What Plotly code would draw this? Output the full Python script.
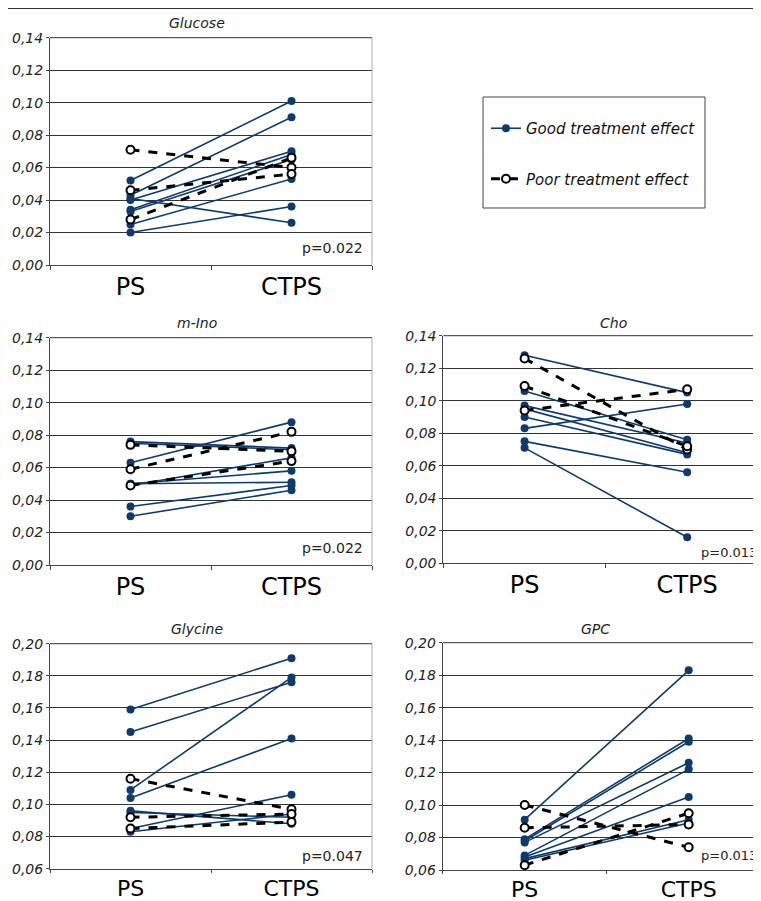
import plotly.graph_objects as go

# The page body adds an 8px margin, so the figure is 8px smaller than the window
# and all layout positions below (given in window pixels) are shifted by OFF.
OFF = 8
W, H = 761 - OFF, 901 - OFF
NAVY = "#0d3b6c"
categories = ["PS", "CTPS"]

# ---- data (PS -> CTPS), one pair per patient ----
glucose_good_ps   = [0.052, 0.043, 0.041, 0.040, 0.034, 0.033, 0.025, 0.020]
glucose_good_ctps = [0.101, 0.091, 0.026, 0.070, 0.068, 0.065, 0.053, 0.036]
glucose_poor_ps   = [0.071, 0.046, 0.028]
glucose_poor_ctps = [0.060, 0.056, 0.066]

mino_good_ps   = [0.076, 0.075, 0.063, 0.050, 0.050, 0.049, 0.036, 0.030]
mino_good_ctps = [0.072, 0.071, 0.088, 0.058, 0.051, 0.066, 0.049, 0.046]
mino_poor_ps   = [0.074, 0.059, 0.049]
mino_poor_ctps = [0.070, 0.082, 0.064]

cho_good_ps   = [0.128, 0.106, 0.097, 0.095, 0.090, 0.083, 0.075, 0.071]
cho_good_ctps = [0.105, 0.076, 0.074, 0.068, 0.067, 0.098, 0.056, 0.016]
cho_poor_ps   = [0.126, 0.109, 0.094]
cho_poor_ctps = [0.070, 0.072, 0.107]

gly_good_ps   = [0.159, 0.145, 0.109, 0.104, 0.096, 0.095, 0.085, 0.083]
gly_good_ctps = [0.191, 0.176, 0.179, 0.141, 0.088, 0.092, 0.106, 0.094]
gly_poor_ps   = [0.116, 0.092, 0.085]
gly_poor_ctps = [0.097, 0.094, 0.089]

gpc_good_ps   = [0.091, 0.079, 0.078, 0.077, 0.069, 0.068, 0.067, 0.066]
gpc_good_ctps = [0.183, 0.141, 0.139, 0.126, 0.122, 0.105, 0.091, 0.089]
gpc_poor_ps   = [0.100, 0.086, 0.063]
gpc_poor_ctps = [0.074, 0.088, 0.095]

titles = ["Glucose", "m-Ino", "Cho", "Glycine", "GPC"]
pvalues = ["p=0.022", "p=0.022", "p=0.013", "p=0.047", "p=0.013"]
y_ranges = [[0, 0.14], [0, 0.14], [0, 0.14], [0.06, 0.20], [0.06, 0.20]]

data = [
    (glucose_good_ps, glucose_good_ctps, glucose_poor_ps, glucose_poor_ctps),
    (mino_good_ps, mino_good_ctps, mino_poor_ps, mino_poor_ctps),
    (cho_good_ps, cho_good_ctps, cho_poor_ps, cho_poor_ctps),
    (gly_good_ps, gly_good_ctps, gly_poor_ps, gly_poor_ctps),
    (gpc_good_ps, gpc_good_ctps, gpc_poor_ps, gpc_poor_ctps),
]

# ---- layout geometry (window pixels) ----
# (left, right, top, bottom, x range max, title x, title y, pval x, pval y,
#  pval anchor, pval size, right border, x label size)
panels = [
    (50, 372, 37.7, 265, 1.5, 197, 23, 332, 248, "center", 14, True, 24),
    (50, 372, 337.7, 565, 1.5, 197, 323, 332, 548, "center", 14, True, 24),
    (443.3, 761, 335.7, 563.3, 1.454, 613, 323, 759, 552, "right", 13, False, 24),
    (50, 372, 643.7, 868.7, 1.5, 197, 629, 332, 856, "center", 14, True, 22),
    (442.7, 761, 642.7, 870, 1.441, 595, 629, 759, 855, "right", 13, False, 22),
]

def xf(px):
    return (px - OFF) / W

def yf(py):
    return 1 - (py - OFF) / H

def pairs(ps, ctps):
    xs, ys = [], []
    for a, b in zip(ps, ctps):
        xs += ["PS", "CTPS", None]
        ys += [a, b, None]
    return xs, ys

fig = go.Figure()
shapes, annotations = [], []
tickfont = dict(family="DejaVu Sans", size=14, color="#222", style="italic")

for i, (geo, d, title, pv, yr) in enumerate(zip(panels, data, titles, pvalues, y_ranges)):
    l, r, t, b, xmax, tx, ty, px, py, panchor, psize, rborder, xls = geo
    n = "" if i == 0 else str(i + 1)
    xa, ya = "x" + n, "y" + n
    gps, gct, pps, pct = d
    gx, gy = pairs(gps, gct)
    px_, py_ = pairs(pps, pct)
    fig.add_trace(go.Scatter(
        x=gx, y=gy, xaxis=xa, yaxis=ya, mode="lines+markers",
        line=dict(color=NAVY, width=1.6),
        marker=dict(color=NAVY, size=8, symbol="circle"),
        name="Good treatment effect", legendgroup="good", showlegend=(i == 0),
        connectgaps=False, cliponaxis=False))
    fig.add_trace(go.Scatter(
        x=px_, y=py_, xaxis=xa, yaxis=ya, mode="lines+markers",
        line=dict(color="black", width=3, dash="dash"),
        marker=dict(color="white", size=8, symbol="circle",
                    line=dict(color="black", width=2)),
        name="Poor treatment effect", legendgroup="poor", showlegend=(i == 0),
        connectgaps=False, cliponaxis=False))

    fig.layout["xaxis" + n] = dict(
        domain=[xf(l), min(1, xf(r))], anchor=ya, type="category",
        categoryorder="array", categoryarray=categories,
        range=[-0.5, xmax], tickson="boundaries", ticks="outside",
        ticklen=4 if xls == 24 else 3, tickcolor="#444", showgrid=False, showline=True,
        linecolor="#444", linewidth=1, zeroline=False, automargin=False,
        tickfont=dict(family="DejaVu Sans", size=xls, color="black"),
        fixedrange=True)
    fig.layout["yaxis" + n] = dict(
        domain=[yf(b), yf(t)], anchor=xa, range=yr, dtick=0.02,
        tick0=0, tickformat=".2f", ticks="outside", ticklen=3,
        tickcolor="#444", showgrid=True, gridcolor="#333", gridwidth=1,
        showline=True, linecolor="#444", linewidth=1, zeroline=False,
        automargin=False, tickfont=tickfont, fixedrange=True)
    # top gridline
    shapes.append(dict(type="line", xref=xa + " domain", yref=ya + " domain",
                       x0=0, x1=1, y0=1, y1=1, line=dict(color="#333", width=1)))
    if rborder:
        shapes.append(dict(type="line", xref=xa + " domain", yref=ya + " domain",
                           x0=1, x1=1, y0=0, y1=1,
                           line=dict(color="#aaaaaa", width=1)))
    annotations.append(dict(text=title, x=xf(tx), y=yf(ty), xref="paper", yref="paper",
                            showarrow=False, xanchor="center", yanchor="middle",
                            font=dict(family="DejaVu Sans", size=14, color="#222",
                                      style="italic")))
    annotations.append(dict(text=pv, x=xf(px), y=yf(py), xref="paper", yref="paper",
                            showarrow=False, xanchor=panchor, yanchor="middle",
                            font=dict(family="DejaVu Sans", size=psize, color="#222")))

# frame line at top of figure
shapes.append(dict(type="line", xref="paper", yref="paper", x0=0, x1=1, y0=1, y1=1,
                   line=dict(color="#333", width=2)))
# legend frame
shapes.append(dict(type="rect", xref="paper", yref="paper",
                   x0=xf(483), x1=xf(705), y0=yf(208), y1=yf(97),
                   line=dict(color="#444", width=1), fillcolor="rgba(0,0,0,0)"))

fig.update_layout(
    width=W, height=H, margin=dict(l=0, r=0, t=0, b=0, autoexpand=False),
    paper_bgcolor="white", plot_bgcolor="white",
    separators=", ",
    shapes=shapes, annotations=annotations,
    legend=dict(x=xf(486), y=yf(112), xanchor="left", yanchor="top",
                borderwidth=0, bgcolor="rgba(0,0,0,0)",
                font=dict(family="DejaVu Sans", size=15, color="#111", style="italic"),
                tracegroupgap=28, traceorder="grouped", itemwidth=30),
)

fig.write_html("out.html")
